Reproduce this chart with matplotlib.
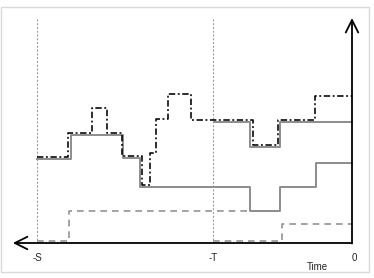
import matplotlib
matplotlib.use("Agg")
import matplotlib.pyplot as plt
from matplotlib.patches import Rectangle

# ---- data (time units: 0 = now, -S = -9, -T ~ -4) ----
S_POS = -9.0
T_POS = -3.97

solid_a_edges = [-9.0, -8.04, -6.54, -6.06, -2.91, -2.06, -1.03, 0.0]
solid_a_vals = [8.4, 10.8, 8.5, 5.6, 3.2, 5.6, 8.0]

solid_b_edges = [-3.94, -2.91, -2.06, 0.0]
solid_b_vals = [12.1, 9.6, 12.1]

dashdot_edges = [-9.0, -8.11, -7.43, -7.0, -6.58, -6.01, -5.77, -5.6, -5.26,
                 -4.61, -2.84, -2.11, -1.06, 0.0]
dashdot_vals = [8.6, 11.0, 13.5, 11.0, 8.7, 5.8, 9.0, 12.4, 14.9, 12.35,
                9.8, 12.3, 14.7]

dashed_a_edges = [-9.0, -8.09, -2.91]
dashed_a_vals = [0.2, 3.2]

dashed_b_edges = [-3.97, -1.99, 0.0]
dashed_b_vals = [0.2, 1.9]

tick_positions = [S_POS, T_POS, 0.06]
tick_labels = ["-S", "-T", "0"]
xlabel = "Time"

plt.rcParams['font.family'] = ['Liberation Sans', 'DejaVu Sans']

fig = plt.figure(figsize=(3.74, 2.78), dpi=100)
ax = fig.add_axes([0, 0, 1, 1])
ax.set_xlim((0 - 352) / 35, (374 - 352) / 35)
ax.set_ylim((243 - 278) / 10, (243 - 0) / 10)
ax.axis("off")

# outer light frame
fig.patches.append(Rectangle((1 / 374, 1 - 272 / 278), 368 / 374, 265 / 278,
                             transform=fig.transFigure, fill=False,
                             edgecolor="#d9d9d9", lw=1.0))


def step(edges, vals, **kw):
    ax.plot(edges, list(vals) + [vals[-1]], drawstyle="steps-post", **kw)


# vertical reference lines
for xp in (S_POS, T_POS):
    ax.plot([xp, xp], [0.3, 22.4], color="#9a9a9a", lw=0.8,
            linestyle=(0, (1.8, 1.6)))

step(dashed_a_edges, dashed_a_vals, color="#939393", lw=1.2,
     linestyle=(0, (4, 3)))
step(dashed_b_edges, dashed_b_vals, color="#939393", lw=1.2,
     linestyle=(0, (4, 3)))
step(solid_a_edges, solid_a_vals, color="#8c8c8c", lw=1.4)
step(solid_b_edges, solid_b_vals, color="#8c8c8c", lw=1.4)
step(dashdot_edges, dashdot_vals, color="black", lw=1.15,
     linestyle=(0, (4, 1.6, 1.2, 1.6)))

# axes arrows
ax.annotate("", xy=(-9.69, 0), xytext=(0, 0),
            arrowprops=dict(arrowstyle="->,head_length=0.9,head_width=0.45",
                            color="black", lw=1.3, shrinkA=0, shrinkB=0))
ax.annotate("", xy=(0, 22.5), xytext=(0, -0.05),
            arrowprops=dict(arrowstyle="->,head_length=0.9,head_width=0.45",
                            color="black", lw=1.3, shrinkA=0, shrinkB=0))

for xp, lab in zip(tick_positions, tick_labels):
    ax.text(xp, -1.5, lab, ha="center", va="center", fontsize=7,
            color="#222222")
ax.text(-1.0, -2.4, xlabel, ha="center", va="center", fontsize=7,
        color="#222222")

fig.savefig("out.png", dpi=100)
